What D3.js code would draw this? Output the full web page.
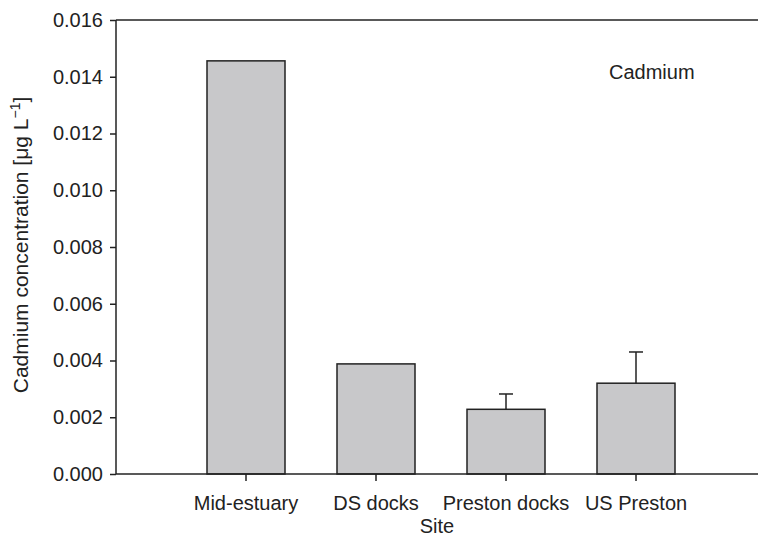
<!DOCTYPE html>
<html><head><meta charset="utf-8">
<script src="https://cdn.jsdelivr.net/npm/d3@7"></script>
<style>body{margin:0;background:#fff;} text{font-family:"Liberation Sans",Arial,sans-serif;fill:#222;}</style>
</head><body>
<svg id="c" width="758" height="538"></svg>
<script>
const categories = ["Mid-estuary", "DS docks", "Preston docks", "US Preston"];
const values = [0.01456, 0.00388, 0.00228, 0.0032];
const errors = [null, null, 0.00054, 0.0011];
const yTicks = [0, 0.002, 0.004, 0.006, 0.008, 0.010, 0.012, 0.014, 0.016];

(function () {
const svg = d3.select("#c");
const pLeft = 116, pTop = 20, pBottom = 474, pRight = 766;
const x = d3.scaleBand().domain(categories).range([pLeft, pRight]).paddingInner(0.4).paddingOuter(0.7);
const y = d3.scaleLinear().domain([0, 0.016]).range([pBottom, pTop]);
const fs = 20;

// top frame line
svg.append("line").attr("x1", pLeft).attr("x2", 758).attr("y1", pTop).attr("y2", pTop)
  .attr("stroke", "#222").attr("stroke-width", 1.5);

// bars
svg.selectAll("rect.bar").data(categories).enter().append("rect")
  .attr("x", d => x(d)).attr("width", x.bandwidth())
  .attr("y", (d, i) => y(values[i])).attr("height", (d, i) => y(0) - y(values[i]))
  .attr("fill", "#c8c8ca").attr("stroke", "#222").attr("stroke-width", 1.5);

// error bars
categories.forEach((c, i) => {
  if (errors[i] == null) return;
  const cx = x(c) + x.bandwidth() / 2;
  svg.append("line").attr("x1", cx).attr("x2", cx).attr("y1", y(values[i])).attr("y2", y(values[i] + errors[i]))
    .attr("stroke", "#222").attr("stroke-width", 1.5);
  svg.append("line").attr("x1", cx - 7).attr("x2", cx + 7).attr("y1", y(values[i] + errors[i])).attr("y2", y(values[i] + errors[i]))
    .attr("stroke", "#222").attr("stroke-width", 1.5);
});

// y axis
const ya = svg.append("g").attr("transform", `translate(${pLeft},0)`)
  .call(d3.axisLeft(y).tickValues(yTicks).tickFormat(d3.format(".3f")).tickSize(6).tickPadding(7));
ya.selectAll("path,line").attr("stroke", "#222").attr("stroke-width", 1.5);
ya.select(".domain").attr("d", `M0,${pTop}V${pBottom}`);
ya.selectAll("text").attr("font-size", fs).attr("fill", "#222").attr("font-family", null);

// x axis
const xa = svg.append("g").attr("transform", `translate(0,${pBottom})`)
  .call(d3.axisBottom(x).tickSize(7).tickPadding(15));
xa.selectAll("path,line").attr("stroke", "#222").attr("stroke-width", 1.5);
xa.select(".domain").attr("d", `M${pLeft},0H758`);
xa.selectAll("text").attr("font-size", fs).attr("fill", "#222").attr("font-family", null);

// axis titles
svg.append("text").attr("x", 437).attr("y", 533).attr("text-anchor", "middle").attr("font-size", fs).text("Site");
const yl = svg.append("text").attr("transform", "translate(28,245) rotate(-90)").attr("text-anchor", "middle").attr("font-size", 21);
yl.append("tspan").text("Cadmium concentration [μg L");
yl.append("tspan").attr("font-size", 14).attr("dy", -8).text("−1");
yl.append("tspan").attr("dy", 8).text("]");

// label
svg.append("text").attr("x", 609).attr("y", 79).attr("font-size", fs).text("Cadmium");
})();
</script>
</body></html>
